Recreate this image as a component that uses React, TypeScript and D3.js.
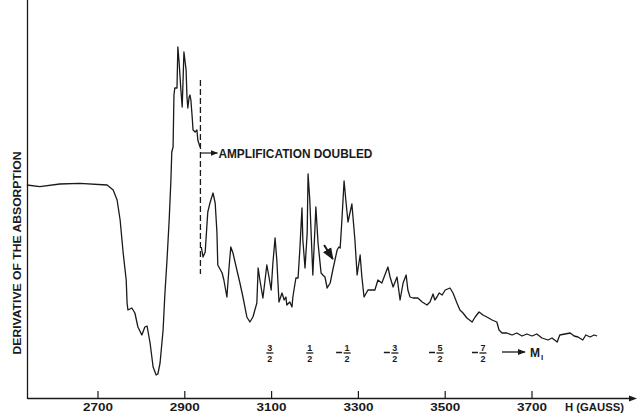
import React from "react";
import * as d3 from "d3";

// Field H (gauss) and derivative signal (arbitrary units, baseline = 0)
const seg1H = [2536,2566,2612,2658,2721,2735,2744,2751,2758,2765,2767,2769,2778,2785,2792,2801,2808,2813,2820,2827,2834,2838,2843,2850,2854,2859,2864,2868,2870,2873,2875,2877,2882,2884,2887,2891,2894,2896,2898,2903,2905,2907,2910,2912,2914,2917,2919,2924,2928,2930,2935];
const seg1S = [0,-1.7,1,1.7,0,-5,-15,-35,-68,-95,-118,-125,-123,-128,-142,-150,-142,-141,-158,-182,-190,-189,-178,-145,-110,-75,-35,5,33,38,90,97,97,138,122,95,78,105,133,115,88,77,88,90,85,68,55,53,55,45,38];

// after "amplification doubled"
const seg2H = [2938,2942,2947,2951,2953,2958,2965,2970,2974,2976,2986,2990,2997,3002,3006,3011,3020,3027,3034,3043,3050,3057,3066,3069,3073,3080,3089,3094,3099,3103,3108,3112,3117,3124,3129,3133,3135,3142,3147,3149,3156,3161,3165,3170,3172,3177,3182,3184,3188,3195,3200,3202,3207,3214,3218,3223,3228,3235,3241,3251,3255,3258,3262,3267,3271,3276,3281,3285,3292,3297,3304,3308,3313,3322,3338,3345,3354,3361,3368,3373,3380,3389,3396,3403,3410,3414,3419,3426,3437,3447,3458,3465,3472,3476,3481,3486,3493,3500,3511,3518,3527,3534,3541,3550,3562,3569,3578,3587,3596,3608,3619,3624,3631,3642,3654,3665,3677,3688,3700,3711,3723,3737,3746,3758,3764,3776,3788,3797,3806,3817,3824,3834,3843,3850];
const seg2S = [-62,-72,-67,-40,-27,-18,-8,-18,-47,-80,-88,-95,-112,-82,-62,-68,-85,-98,-112,-132,-137,-132,-118,-83,-95,-113,-80,-92,-105,-78,-53,-75,-117,-108,-115,-112,-120,-117,-122,-112,-93,-93,-65,-23,-55,-83,-48,11,-15,-90,-42,-22,-58,-88,-90,-92,-103,-98,-85,-65,-62,-63,-35,4,-15,-37,-27,-19,-55,-90,-70,-92,-112,-105,-105,-95,-98,-90,-82,-92,-102,-92,-115,-98,-90,-105,-112,-113,-113,-117,-120,-117,-109,-115,-112,-108,-110,-105,-103,-108,-118,-125,-128,-133,-137,-132,-127,-130,-132,-135,-137,-145,-148,-148,-150,-148,-151,-149,-151,-149,-153,-155,-153,-157,-150,-149,-148,-151,-152,-155,-150,-152,-150,-151];

const tickValues = [2700, 2900, 3100, 3300, 3500, 3700];
const miLabels = [
  { sign: "", num: "3", H: 3096 },
  { sign: "", num: "1", H: 3188 },
  { sign: "-", num: "1", H: 3274 },
  { sign: "-", num: "3", H: 3384 },
  { sign: "-", num: "5", H: 3488 },
  { sign: "-", num: "7", H: 3587 },
];
const ampH = 2936;
const ampTop = 105;
const ampBottom = -89;
const ampArrowS = 32;
const pointerFrom = [3221, -60];
const pointerTo = [3241, -74];

export default function App() {
  const W = 638, Hh = 413;
  const x = d3.scaleLinear().domain([2700, 3700]).range([98, 532]);
  const y = d3.scaleLinear().domain([-214, 185]).range([399, 0]);
  const line = d3.line<[number, number]>().x(d => x(d[0])).y(d => y(d[1]));
  const d1 = line(seg1H.map((h, i) => [h, seg1S[i]]) as [number, number][]) || "";
  const d2 = line(seg2H.map((h, i) => [h, seg2S[i]]) as [number, number][]) || "";
  const font = "'Liberation Sans', Arial, sans-serif";
  const ink = "#1a1a1a";
  const axisY = y(-214);
  const axisX = 27.5;
  return (
    <svg width={W} height={Hh} style={{ position: "absolute", left: 0, top: 0, background: "#fff" }}>
      <defs>
        <marker id="ah" viewBox="0 0 10 10" refX="9" refY="5" markerWidth="6" markerHeight="6" orient="auto">
          <path d="M0,1 L10,5 L0,9 z" fill={ink} />
        </marker>
      </defs>
      {/* axes */}
      <line x1={axisX} y1={0} x2={axisX} y2={axisY} stroke={ink} strokeWidth={1.3} />
      <line x1={axisX} y1={axisY - 0.5} x2={632} y2={axisY - 0.5} stroke={ink} strokeWidth={1.3} />
      <path d={`M637,${axisY - 0.5} L629,${axisY - 3.5} L629,${axisY + 2.5} z`} fill={ink} />
      {tickValues.map(t => (
        <g key={t}>
          <line x1={x(t)} x2={x(t)} y1={axisY} y2={axisY - 8} stroke={ink} strokeWidth={1.2} />
          <text x={x(t)} y={410.5} textAnchor="middle" fontFamily={font} fontSize={11.5} fontWeight="bold" fill={ink} textLength={30} lengthAdjust="spacingAndGlyphs">{t}</text>
        </g>
      ))}
      <text x={565} y={410.5} fontFamily={font} fontSize={11.5} fontWeight="bold" fill={ink} textLength={59} lengthAdjust="spacingAndGlyphs">H (GAUSS)</text>
      <text transform={`translate(21,253) rotate(-90)`} textAnchor="middle" fontFamily={font} fontSize={11.5} fontWeight="bold" fill={ink} textLength={203} lengthAdjust="spacingAndGlyphs">DERIVATIVE OF THE ABSORPTION</text>

      {/* spectrum */}
      <path d={d1} fill="none" stroke={ink} strokeWidth={1.3} strokeLinejoin="round" />
      <path d={d2} fill="none" stroke={ink} strokeWidth={1.3} strokeLinejoin="round" />

      {/* amplification doubled */}
      <line x1={x(ampH)} x2={x(ampH)} y1={y(ampTop)} y2={y(ampBottom)} stroke={ink} strokeWidth={1.3} strokeDasharray="6,3" />
      <line x1={x(ampH)} x2={x(ampH) + 17} y1={y(ampArrowS)} y2={y(ampArrowS)} stroke={ink} strokeWidth={1.2} markerEnd="url(#ah)" />
      <text x={x(ampH) + 18} y={y(ampArrowS) + 5} fontFamily={font} fontSize={12} fontWeight="bold" fill={ink} textLength={154} lengthAdjust="spacingAndGlyphs">AMPLIFICATION DOUBLED</text>

      {/* pointer arrow */}
      <line x1={x(pointerFrom[0])} y1={y(pointerFrom[1])} x2={x(pointerTo[0])} y2={y(pointerTo[1])} stroke={ink} strokeWidth={2} markerEnd="url(#ah)" />

      {/* MI labels */}
      {miLabels.map((m, i) => {
        const cx = x(m.H);
        return (
          <g key={i} fontFamily={font} fontWeight="bold" fill={ink}>
            {m.sign && <line x1={cx - 11} x2={cx - 5} y1={352.5} y2={352.5} stroke={ink} strokeWidth={1.5} />}
            <text x={cx} y={351} textAnchor="middle" fontSize={9}>{m.num}</text>
            <line x1={cx - 3.5} x2={cx + 3.5} y1={353} y2={353} stroke={ink} strokeWidth={1.3} />
            <text x={cx} y={361.5} textAnchor="middle" fontSize={9}>2</text>
          </g>
        );
      })}
      <line x1={502} x2={525} y1={352} y2={352} stroke={ink} strokeWidth={1.3} markerEnd="url(#ah)" />
      <text x={530} y={357} fontFamily={font} fontSize={12} fontWeight="bold" fill={ink}>M</text>
      <text x={541} y={360} fontFamily={font} fontSize={8} fontWeight="bold" fill={ink}>I</text>
    </svg>
  );
}
